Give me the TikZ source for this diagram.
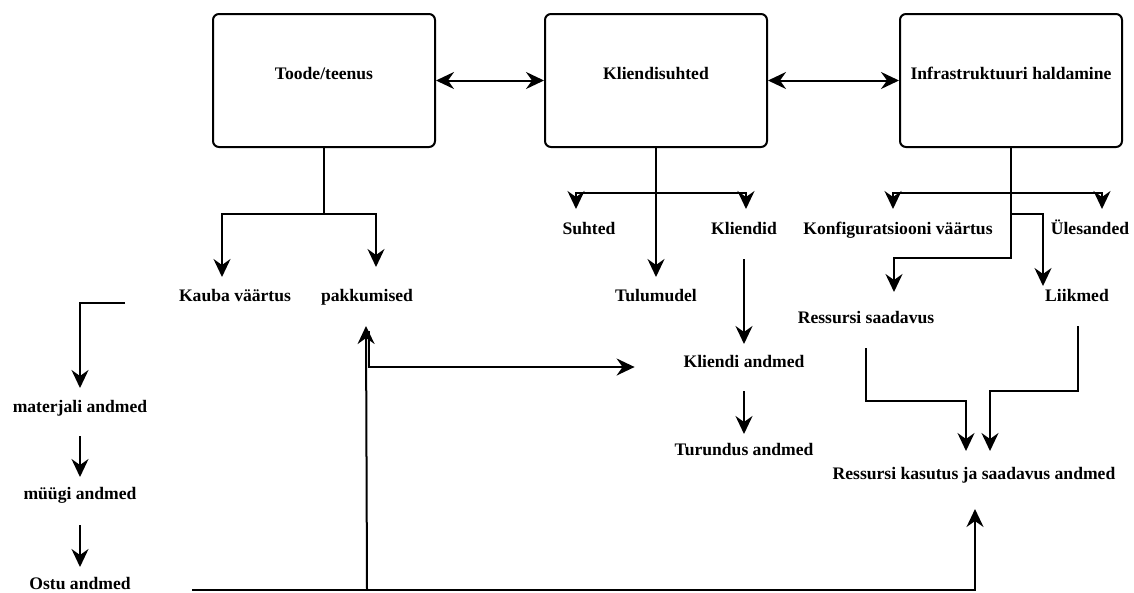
\documentclass[tikz,border=0pt]{standalone}
\usepackage{fontspec}
\setmainfont{Liberation Serif}
\usetikzlibrary{arrows.meta}
\begin{document}
\begin{tikzpicture}[
        x=1pt, y=-1pt,
        line width=2pt,
        arr/.style={-{Stealth[length=18pt,width=17pt,inset=6pt]}},
        arrboth/.style={{Stealth[length=18pt,width=17pt,inset=6pt]}-{Stealth[length=18pt,width=17pt,inset=6pt]}},
        block/.style={
            draw,
            rounded corners=6pt,
            minimum width=222pt,
            minimum height=133pt,
            text height=12pt,
            text depth=14pt,
            font=\bfseries\fontsize{17.6}{20}\selectfont},
        item/.style={
            inner sep=0pt,
            text height=12pt,
            text depth=0pt,
            font=\bfseries\fontsize{17.6}{20}\selectfont}]
        \useasboundingbox (0,0) rectangle (1134,592);

        \node[block] (toode) at (324,80.5) {Toode/teenus};
        \node[block] (klient) at (656,80.5) {Kliendisuhted};
        \node[block] (infra) at (1011,80.5) {Infrastruktuuri haldamine};

        \node[item] (kauba) at (235,295) {Kauba väärtus};
        \node[item] (pakk) at (367,295) {pakkumised};
        \node[item] (suhted) at (589,228) {Suhted};
        \node[item] (kliendid) at (744,228) {Kliendid};
        \node[item] (tulu) at (656,295) {Tulumudel};
        \node[item] (klandmed) at (744,361) {Kliendi andmed};
        \node[item] (turundus) at (744,449) {Turundus andmed};
        \node[item] (konf) at (898,228) {Konfiguratsiooni väärtus};
        \node[item] (yles) at (1090,228) {Ülesanded};
        \node[item] (ressaad) at (866,317) {Ressursi saadavus};
        \node[item] (liikmed) at (1077,295) {Liikmed};
        \node[item] (reskas) at (974,473) {Ressursi kasutus ja saadavus andmed};
        \node[item] (mat) at (80,406) {materjali andmed};
        \node[item] (myygi) at (80,493) {müügi andmed};
        \node[item] (ostu) at (80,583) {Ostu andmed};

        \coordinate (lhook) at (125,303);
        \coordinate (bus) at (192,590);

        \draw[arrboth] (toode.east) -- (klient.west);
        \draw[arrboth] (klient.east) -- (infra.west);

        \draw[arr] (toode.south) -- ++(0,66) -| ([xshift=-13pt,yshift=11pt]kauba.north);
        \draw[arr] (toode.south) -- ++(0,66) -| ([xshift=9pt,yshift=21pt]pakk.north);

        \draw[arr] (klient.south) -- ++(0,45) -| ([xshift=-13pt,yshift=12pt]suhted.north);
        \draw[arr] (klient.south) -- ++(0,45) -| ([xshift=2pt,yshift=12pt]kliendid.north);
        \draw[arr] (klient.south) -- ([yshift=11pt]klient.south |- tulu.north);
        \draw[arr] ([yshift=-24pt]kliendid.south) -- ([yshift=10pt]klandmed.north);
        \draw[arr] ([yshift=-23pt]klandmed.south) -- ([yshift=8pt]turundus.north);

        \draw[arr] (infra.south) -- ++(0,45) -| ([xshift=-5pt,yshift=12pt]konf.north);
        \draw[arr] (infra.south) -- ++(0,45) -| ([xshift=12pt,yshift=12pt]yles.north);
        \draw[arr] (infra.south) -- ++(0,110) -| ([xshift=28pt,yshift=18pt]ressaad.north);
        \draw[arr] (infra.south) -- ++(0,66) -| ([xshift=-34pt,yshift=2pt]liikmed.north);

        \draw[arr] ([yshift=-24pt]ressaad.south) -- ++(0,53) -| ([xshift=-8pt,yshift=15pt]reskas.north);
        \draw[arr] ([xshift=1pt,yshift=-24pt]liikmed.south) -- ++(0,65) -| ([xshift=16pt,yshift=15pt]reskas.north);

        \draw[arr] (lhook) -| ([yshift=11pt]mat.north);
        \draw[arr] ([yshift=-23pt]mat.south) -- ([yshift=9pt]myygi.north);
        \draw[arr] ([yshift=-25pt]myygi.south) -- ([yshift=9pt]ostu.north);

        \draw[arr] (bus) -| ([xshift=1pt,yshift=-29pt]reskas.south);
        \draw[arr] (bus -| pakk.south) -- ([xshift=-1pt,yshift=-24pt]pakk.south);
        \draw[arr] ([xshift=2pt,yshift=-29pt]pakk.south) |- ([xshift=-48pt,yshift=-6pt]klandmed.west);
    \end{tikzpicture}
\end{document}
